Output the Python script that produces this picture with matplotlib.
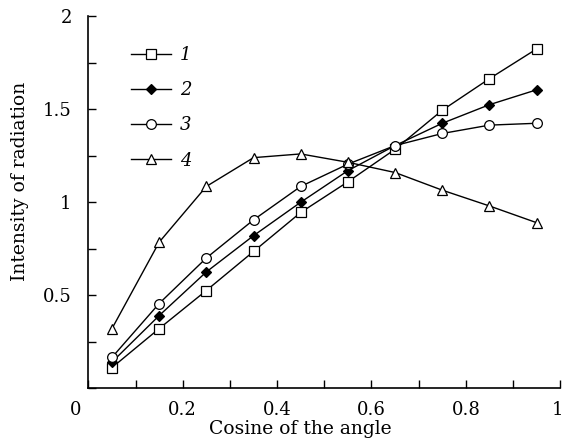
import numpy as np
import matplotlib
matplotlib.use('Agg')
import matplotlib.pyplot as plt
from matplotlib.ticker import MultipleLocator
import matplotlib.transforms as mtransforms

plt.rcParams['font.family'] = ['DejaVu Serif']

# cosine of the angle
cos_x = [0.05, 0.15, 0.25, 0.35, 0.45, 0.55, 0.65, 0.75, 0.85, 0.95]

# intensity of radiation, one list per curve
curve_1 = [0.11, 0.32, 0.525, 0.735, 0.945, 1.11, 1.285, 1.495, 1.665, 1.825]
curve_2 = [0.14, 0.39, 0.625, 0.82, 1.0, 1.17, 1.305, 1.425, 1.525, 1.605]
curve_3 = [0.165, 0.455, 0.70, 0.905, 1.085, 1.205, 1.305, 1.37, 1.415, 1.425]
curve_4 = [0.32, 0.785, 1.085, 1.24, 1.26, 1.215, 1.16, 1.065, 0.98, 0.89]

labels = ['1', '2', '3', '4']
x_ticks = [0, 0.2, 0.4, 0.6, 0.8, 1]
x_ticklabels = ['0', '0.2', '0.4', '0.6', '0.8', '1']
y_ticks = [0.5, 1, 1.5, 2]
y_ticklabels = ['0.5', '1', '1.5', '2']

fig = plt.figure(figsize=(5.63, 4.44), dpi=100)
ax = fig.add_axes([0.157, 0.126, 0.838, 0.837])

styles = [
    dict(marker='s', mfc='white', ms=6.5),
    dict(marker='D', mfc='black', ms=5.0),
    dict(marker='o', mfc='white', ms=7.0),
    dict(marker='^', mfc='white', ms=7.0),
]
for ys, lab, st in zip([curve_1, curve_2, curve_3, curve_4], labels, styles):
    ax.plot(cos_x, ys, color='black', lw=1.0, mec='black', mew=0.9,
            label=lab, **st)

ax.set_xlim(0, 1)
ax.set_ylim(0, 2)
ax.spines['top'].set_visible(False)
ax.spines['right'].set_visible(False)
for s in ('left', 'bottom'):
    ax.spines[s].set_linewidth(1.2)

ax.set_xticks(x_ticks)
ax.set_xticklabels(x_ticklabels)
ax.xaxis.set_minor_locator(MultipleLocator(0.1))
ax.set_yticks(y_ticks)
ax.set_yticklabels(y_ticklabels)
ax.yaxis.set_minor_locator(MultipleLocator(0.25))
ax.tick_params(which='both', direction='in', labelsize=13, width=1.0, length=6)
ax.tick_params(axis='x', pad=9)
ax.tick_params(axis='y', pad=12)

# origin label sits left of the corner, last label nudged inside
lab_list = ax.get_xticklabels()
lab_list[0].set_transform(lab_list[0].get_transform() +
                          mtransforms.ScaledTranslation(-13 / 100, 0, fig.dpi_scale_trans))
lab_list[-1].set_transform(lab_list[-1].get_transform() +
                           mtransforms.ScaledTranslation(-3 / 100, 0, fig.dpi_scale_trans))

ax.set_xlabel('Cosine of the angle', fontsize=13.5)
ax.xaxis.set_label_coords(0.449, -0.087)
ax.set_ylabel('Intensity of radiation', fontsize=13.5)
ax.yaxis.set_label_coords(-0.125, 0.556)

leg = ax.legend(loc='upper left', bbox_to_anchor=(0.056, 0.964), frameon=False,
                prop={'style': 'italic', 'size': 13}, handlelength=2.2,
                handletextpad=0.5, labelspacing=0.95)

fig.savefig('out.png', dpi=100)
